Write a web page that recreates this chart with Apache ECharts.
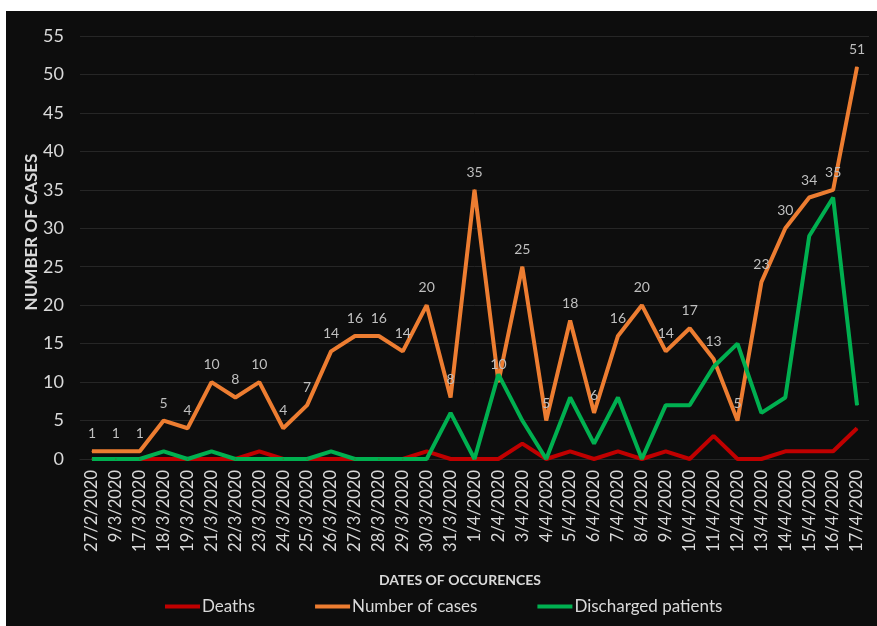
<!DOCTYPE html>
<html>
<head>
<meta charset="utf-8">
<script src="https://cdn.jsdelivr.net/npm/echarts@6/dist/echarts.min.js"></script>
<style>
  html, body { margin: 0; padding: 0; background: #fff; }
  #chart { position: absolute; left: 6px; top: 11px; width: 871px; height: 615px; background: #0d0d0d; }
</style>
</head>
<body>
<div id="chart"></div>
<script>
const dates = ['27/2/2020', '9/3/2020', '17/3/2020', '18/3/2020', '19/3/2020', '21/3/2020', '22/3/2020',
  '23/3/2020', '24/3/2020', '25/3/2020', '26/3/2020', '27/3/2020', '28/3/2020', '29/3/2020', '30/3/2020',
  '31/3/2020', '1/4/2020', '2/4/2020', '3/4/2020', '4/4/2020', '5/4/2020', '6/4/2020', '7/4/2020',
  '8/4/2020', '9/4/2020', '10/4/2020', '11/4/2020', '12/4/2020', '13/4/2020', '14/4/2020', '15/4/2020',
  '16/4/2020', '17/4/2020'];
const deaths = [0, 0, 0, 0, 0, 0, 0, 1, 0, 0, 0, 0, 0, 0, 1,
  0, 0, 0, 2, 0, 1, 0, 1, 0, 1, 0, 3, 0, 0, 1, 1, 1, 4];
const cases = [1, 1, 1, 5, 4, 10, 8, 10, 4, 7, 14, 16, 16, 14, 20,
  8, 35, 10, 25, 5, 18, 6, 16, 20, 14, 17, 13, 5, 23, 30, 34, 35, 51];
const discharged = [0, 0, 0, 1, 0, 1, 0, 0, 0, 0, 1, 0, 0, 0, 0,
  6, 0, 11, 5, 0, 8, 2, 8, 0, 7, 7, 12, 15, 6, 8, 29, 34, 7];

const font = 'Lato, "Open Sans", sans-serif';
const chart = echarts.init(document.getElementById('chart'));

function lineSeries(name, data, color, withLabels) {
  return {
    name: name,
    type: 'line',
    data: data,
    symbol: 'circle',
    symbolSize: 1,
    showSymbol: true,
    lineStyle: { color: color, width: 4 },
    itemStyle: { color: color },
    label: withLabels ? {
      show: true, position: 'top', distance: 10,
      color: '#bfbfbf', fontSize: 14, fontFamily: font
    } : { show: false },
    emphasis: { disabled: true }
  };
}

chart.setOption({
  animation: false,
  backgroundColor: '#0d0d0d',
  textStyle: { fontFamily: font },
  grid: { left: 74, right: 8, top: 25, bottom: 167 },
  xAxis: {
    type: 'category',
    data: dates,
    boundaryGap: true,
    axisLine: { lineStyle: { color: '#262626', width: 1 } },
    axisTick: { show: false },
    axisLabel: { rotate: 90, color: '#d9d9d9', fontSize: 16.5, margin: 11, fontFamily: font, interval: 0 }
  },
  yAxis: {
    type: 'value',
    min: 0, max: 55, interval: 5,
    axisLine: { show: false },
    axisTick: { show: false },
    splitLine: { lineStyle: { color: '#262626', width: 1 } },
    axisLabel: { color: '#d9d9d9', fontSize: 18, margin: 16, fontFamily: font }
  },
  legend: {
    bottom: 6,
    left: 154,
    itemGap: 60,
    itemWidth: 35,
    itemHeight: 4,
    icon: 'rect',
    textStyle: { color: '#d9d9d9', fontSize: 17, fontFamily: font, padding: [0, 0, 0, -3] },
    data: ['Deaths', 'Number of cases', 'Discharged patients']
  },
  graphic: [
    {
      type: 'text', x: 454, y: 569,
      style: { text: 'DATES OF OCCURENCES', fill: '#d9d9d9', font: 'bold 14px ' + font, align: 'center', verticalAlign: 'middle' }
    },
    {
      type: 'text', x: 26, y: 221, rotation: Math.PI / 2,
      style: { text: 'NUMBER OF CASES', fill: '#d9d9d9', font: 'bold 17px ' + font, align: 'center', verticalAlign: 'middle' }
    }
  ],
  series: [
    lineSeries('Deaths', deaths, '#c00000', false),
    lineSeries('Number of cases', cases, '#ed7d31', true),
    lineSeries('Discharged patients', discharged, '#00b050', false)
  ]
});
</script>
</body>
</html>
